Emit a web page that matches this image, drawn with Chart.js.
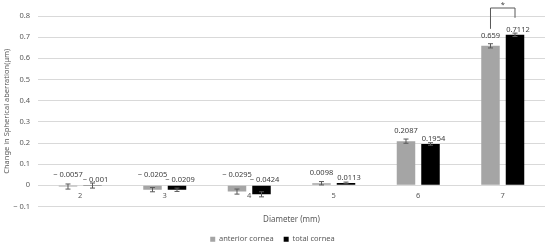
<!DOCTYPE html>
<html>
<head>
<meta charset="utf-8">
<script src="https://cdn.jsdelivr.net/npm/chart.js@4"></script>
<style>
	html, body { margin: 0; padding: 0; background: #fff; }
	#wrap { width: 550px; height: 246px; }
</style>
</head>
<body>
<div id="wrap"><canvas id="chart"></canvas></div>
<script>
const diameters = ['2', '3', '4', '5', '6', '7']
const anteriorCornea = [-0.0057, -0.0205, -0.0295, 0.0098, 0.2087, 0.659]
const totalCornea = [-0.001, -0.0209, -0.0424, 0.0113, 0.1954, 0.7112]
const anteriorError = [0.012, 0.01, 0.012, 0.008, 0.01, 0.01]
const totalError = [0.012, 0.008, 0.012, 0.004, 0.006, 0.008]
const significance = ['', '', '', '', '', '*']

const FONT = '"Noto Sans", sans-serif'
const TEXT = '#595959'
const SMALL = 7.5

const fmt = v => v < 0 ? '\u2212 ' + Math.abs(v) : String(v)

// error bars, value labels and the significance bracket
const extras = {
	id: 'extras',
	afterDatasetsDraw(chart) {
		const { ctx } = chart
		const y = chart.scales.y
		const errs = [anteriorError, totalError]
		const labelOffset = [-10, -5]
		const labelShift = [0, 3]
		ctx.save()
		chart.data.datasets.forEach((ds, di) => {
			const meta = chart.getDatasetMeta(di)
			meta.data.forEach((bar, i) => {
				const v = ds.data[i]
				const e = errs[di][i]
				const y1 = y.getPixelForValue(v - e)
				const y2 = y.getPixelForValue(v + e)
				ctx.strokeStyle = '#595959'
				ctx.lineWidth = 1
				ctx.beginPath()
				ctx.moveTo(bar.x, y1); ctx.lineTo(bar.x, y2)
				ctx.moveTo(bar.x - 2.5, y1); ctx.lineTo(bar.x + 2.5, y1)
				ctx.moveTo(bar.x - 2.5, y2); ctx.lineTo(bar.x + 2.5, y2)
				ctx.stroke()

				const top = y.getPixelForValue(Math.max(v, 0))
				ctx.fillStyle = '#404040'
				ctx.font = SMALL + 'px ' + FONT
				ctx.textAlign = 'center'
				ctx.textBaseline = 'middle'
				ctx.fillText(fmt(v), bar.x + labelShift[di], top + labelOffset[di])
			})
		})

		const m0 = chart.getDatasetMeta(0)
		const m1 = chart.getDatasetMeta(1)
		significance.forEach((s, i) => {
			if (!s) return
			const a = m0.data[i]
			const b = m1.data[i]
			const topY = chart.chartArea.top - 8
			ctx.strokeStyle = '#595959'
			ctx.lineWidth = 1
			ctx.beginPath()
			ctx.moveTo(a.x, y.getPixelForValue(anteriorCornea[i]) - 17)
			ctx.lineTo(a.x, topY)
			ctx.lineTo(b.x, topY)
			ctx.lineTo(b.x, y.getPixelForValue(totalCornea[i]) - 17)
			ctx.stroke()
			ctx.fillStyle = '#404040'
			ctx.font = SMALL + 'px ' + FONT
			ctx.textAlign = 'center'
			ctx.textBaseline = 'middle'
			ctx.fillText(s, (a.x + b.x) / 2, topY - 3)
		})
		ctx.restore()
	}
}

new Chart(document.getElementById('chart'), {
	type: 'bar',
	data: {
		labels: diameters,
		datasets: [
			{ label: 'anterior cornea', data: anteriorCornea, backgroundColor: '#a5a5a5' },
			{ label: 'total cornea', data: totalCornea, backgroundColor: '#000000' }
		]
	},
	options: {
		responsive: true,
		maintainAspectRatio: false,
		animation: false,
		categoryPercentage: 0.58,
		barPercentage: 0.755,
		layout: { padding: { top: 16, right: 5, bottom: -7, left: 0 } },
		scales: {
			x: {
				position: { y: 0 },
				grid: { display: false, drawTicks: false },
				border: { display: false },
				ticks: { color: TEXT, font: { family: FONT, size: SMALL }, padding: 6 },
				title: {
					display: true,
					text: 'Diameter (mm)',
					color: TEXT,
					font: { family: FONT, size: 8 },
					padding: { top: 9, bottom: 0 }
				}
			},
			y: {
				min: -0.1,
				max: 0.8,
				grid: { color: '#d9d9d9', drawTicks: false },
				border: { display: false },
				ticks: {
					stepSize: 0.1,
					color: TEXT,
					font: { family: FONT, size: SMALL },
					padding: 8,
					callback: v => {
						const r = Math.round(v * 10) / 10
						return r === 0 ? '0' : fmt(r)
					}
				},
				title: {
					display: true,
					text: 'Change in Spherical aberration(μm)',
					color: TEXT,
					font: { family: FONT, size: 7.5 },
					padding: { top: 2, bottom: 0 }
				},
				afterFit: s => { s.width = 38 }
			}
		},
		plugins: {
			legend: {
				position: 'bottom',
				title: {
					display: true,
					text: '',
					font: { family: FONT, size: SMALL },
					padding: { top: 10, bottom: 0 }
				},
				labels: {
					color: TEXT,
					font: { family: FONT, size: SMALL },
					boxWidth: 5,
					boxHeight: 5,
					padding: 10
				}
			},
			tooltip: { enabled: false }
		}
	},
	plugins: [extras]
})
</script>
</body>
</html>
